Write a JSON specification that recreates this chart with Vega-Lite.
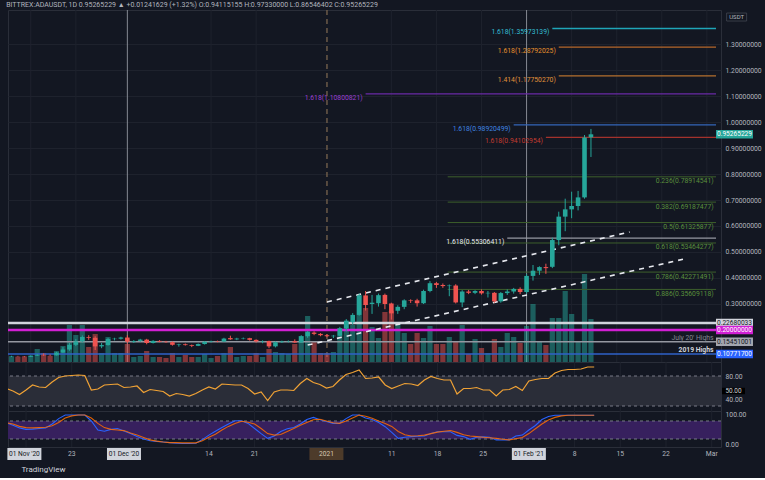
{
  "$schema": "https://vega.github.io/schema/vega-lite/v6.json",
  "background": "#131722",
  "padding": {"left": 6, "right": 5, "top": 0, "bottom": 4},
  "bounds": "flush",
  "spacing": 0,
  "title": {
    "text": "BITTREX:ADAUSDT, 1D  0.95265229 ▲ +0.01241629 (+1.32%)  O:0.94115155  H:0.97330000  L:0.86546402  C:0.95265229",
    "anchor": "start",
    "fontSize": 7,
    "fontWeight": "normal",
    "color": "#b2b5be",
    "offset": 1
  },
  "datasets": {
    "ohlc": [
      {"date": "2020-11-13", "open": 0.0975, "high": 0.1010, "low": 0.0960, "close": 0.0995, "vol": 5, "rsi": 55, "k": 74, "d": 74},
      {"date": "2020-11-14", "open": 0.0995, "high": 0.1005, "low": 0.0975, "close": 0.0985, "vol": 5, "rsi": 50, "k": 66, "d": 70},
      {"date": "2020-11-15", "open": 0.0985, "high": 0.0995, "low": 0.0955, "close": 0.0970, "vol": 5, "rsi": 43, "k": 57, "d": 62},
      {"date": "2020-11-16", "open": 0.0970, "high": 0.1025, "low": 0.0960, "close": 0.1015, "vol": 6, "rsi": 52, "k": 52, "d": 58},
      {"date": "2020-11-17", "open": 0.1015, "high": 0.1070, "low": 0.1000, "close": 0.1045, "vol": 13, "rsi": 62, "k": 53, "d": 57},
      {"date": "2020-11-18", "open": 0.1045, "high": 0.1100, "low": 0.1010, "close": 0.1030, "vol": 9, "rsi": 58, "k": 55, "d": 58},
      {"date": "2020-11-19", "open": 0.1030, "high": 0.1060, "low": 0.1005, "close": 0.1025, "vol": 6, "rsi": 57, "k": 57, "d": 59},
      {"date": "2020-11-20", "open": 0.1025, "high": 0.1160, "low": 0.1020, "close": 0.1130, "vol": 11, "rsi": 68, "k": 70, "d": 64},
      {"date": "2020-11-21", "open": 0.1130, "high": 0.1340, "low": 0.1120, "close": 0.1250, "vol": 16, "rsi": 77, "k": 88, "d": 75},
      {"date": "2020-11-22", "open": 0.1250, "high": 0.1500, "low": 0.1200, "close": 0.1430, "vol": 37, "rsi": 80, "k": 100, "d": 90},
      {"date": "2020-11-23", "open": 0.1430, "high": 0.1650, "low": 0.1380, "close": 0.1560, "vol": 27, "rsi": 81, "k": 100, "d": 97},
      {"date": "2020-11-24", "open": 0.1560, "high": 0.1790, "low": 0.1520, "close": 0.1730, "vol": 37, "rsi": 82, "k": 100, "d": 100},
      {"date": "2020-11-25", "open": 0.1730, "high": 0.1800, "low": 0.1620, "close": 0.1700, "vol": 15, "rsi": 81, "k": 100, "d": 100},
      {"date": "2020-11-26", "open": 0.1700, "high": 0.1760, "low": 0.1230, "close": 0.1370, "vol": 28, "rsi": 52, "k": 80, "d": 90},
      {"date": "2020-11-27", "open": 0.1370, "high": 0.1500, "low": 0.1300, "close": 0.1420, "vol": 9, "rsi": 54, "k": 50, "d": 72},
      {"date": "2020-11-28", "open": 0.1420, "high": 0.1700, "low": 0.1400, "close": 0.1650, "vol": 25, "rsi": 62, "k": 46, "d": 58},
      {"date": "2020-11-29", "open": 0.1650, "high": 0.1700, "low": 0.1600, "close": 0.1665, "vol": 9, "rsi": 63, "k": 52, "d": 52},
      {"date": "2020-11-30", "open": 0.1665, "high": 0.1740, "low": 0.1630, "close": 0.1710, "vol": 9, "rsi": 64, "k": 55, "d": 50},
      {"date": "2020-12-01", "open": 0.1710, "high": 0.1800, "low": 0.1480, "close": 0.1550, "vol": 18, "rsi": 57, "k": 47, "d": 48},
      {"date": "2020-12-02", "open": 0.1550, "high": 0.1610, "low": 0.1500, "close": 0.1580, "vol": 5, "rsi": 58, "k": 38, "d": 40},
      {"date": "2020-12-03", "open": 0.1580, "high": 0.1660, "low": 0.1540, "close": 0.1630, "vol": 6, "rsi": 60, "k": 28, "d": 33},
      {"date": "2020-12-04", "open": 0.1630, "high": 0.1660, "low": 0.1450, "close": 0.1500, "vol": 11, "rsi": 47, "k": 20, "d": 25},
      {"date": "2020-12-05", "open": 0.1500, "high": 0.1610, "low": 0.1480, "close": 0.1580, "vol": 5, "rsi": 53, "k": 14, "d": 17},
      {"date": "2020-12-06", "open": 0.1580, "high": 0.1610, "low": 0.1530, "close": 0.1550, "vol": 5, "rsi": 51, "k": 12, "d": 13},
      {"date": "2020-12-07", "open": 0.1550, "high": 0.1580, "low": 0.1510, "close": 0.1530, "vol": 4, "rsi": 49, "k": 10, "d": 10},
      {"date": "2020-12-08", "open": 0.1530, "high": 0.1560, "low": 0.1400, "close": 0.1430, "vol": 9, "rsi": 40, "k": 8, "d": 8},
      {"date": "2020-12-09", "open": 0.1430, "high": 0.1470, "low": 0.1360, "close": 0.1450, "vol": 5, "rsi": 45, "k": 6, "d": 8},
      {"date": "2020-12-10", "open": 0.1450, "high": 0.1480, "low": 0.1400, "close": 0.1420, "vol": 7, "rsi": 43, "k": 5, "d": 7},
      {"date": "2020-12-11", "open": 0.1420, "high": 0.1440, "low": 0.1340, "close": 0.1390, "vol": 5, "rsi": 40, "k": 5, "d": 7},
      {"date": "2020-12-12", "open": 0.1390, "high": 0.1480, "low": 0.1380, "close": 0.1460, "vol": 5, "rsi": 45, "k": 6, "d": 7},
      {"date": "2020-12-13", "open": 0.1460, "high": 0.1570, "low": 0.1440, "close": 0.1550, "vol": 8, "rsi": 52, "k": 18, "d": 14},
      {"date": "2020-12-14", "open": 0.1550, "high": 0.1590, "low": 0.1520, "close": 0.1570, "vol": 4, "rsi": 58, "k": 33, "d": 26},
      {"date": "2020-12-15", "open": 0.1570, "high": 0.1590, "low": 0.1530, "close": 0.1555, "vol": 6, "rsi": 54, "k": 46, "d": 36},
      {"date": "2020-12-16", "open": 0.1555, "high": 0.1700, "low": 0.1540, "close": 0.1670, "vol": 9, "rsi": 64, "k": 58, "d": 50},
      {"date": "2020-12-17", "open": 0.1690, "high": 0.1780, "low": 0.1620, "close": 0.1640, "vol": 15, "rsi": 63, "k": 70, "d": 62},
      {"date": "2020-12-18", "open": 0.1640, "high": 0.1700, "low": 0.1610, "close": 0.1670, "vol": 5, "rsi": 62, "k": 81, "d": 72},
      {"date": "2020-12-19", "open": 0.1670, "high": 0.1710, "low": 0.1640, "close": 0.1685, "vol": 6, "rsi": 62, "k": 81, "d": 79},
      {"date": "2020-12-20", "open": 0.1685, "high": 0.1700, "low": 0.1590, "close": 0.1620, "vol": 6, "rsi": 55, "k": 72, "d": 76},
      {"date": "2020-12-21", "open": 0.1620, "high": 0.1640, "low": 0.1520, "close": 0.1560, "vol": 9, "rsi": 44, "k": 55, "d": 70},
      {"date": "2020-12-22", "open": 0.1560, "high": 0.1600, "low": 0.1490, "close": 0.1575, "vol": 5, "rsi": 48, "k": 38, "d": 55},
      {"date": "2020-12-23", "open": 0.1575, "high": 0.1590, "low": 0.1300, "close": 0.1370, "vol": 13, "rsi": 31, "k": 22, "d": 38},
      {"date": "2020-12-24", "open": 0.1370, "high": 0.1560, "low": 0.1330, "close": 0.1530, "vol": 10, "rsi": 48, "k": 30, "d": 33},
      {"date": "2020-12-25", "open": 0.1530, "high": 0.1590, "low": 0.1500, "close": 0.1560, "vol": 9, "rsi": 52, "k": 45, "d": 35},
      {"date": "2020-12-26", "open": 0.1560, "high": 0.1600, "low": 0.1520, "close": 0.1570, "vol": 8, "rsi": 52, "k": 54, "d": 45},
      {"date": "2020-12-27", "open": 0.1570, "high": 0.1640, "low": 0.1500, "close": 0.1520, "vol": 18, "rsi": 51, "k": 58, "d": 55},
      {"date": "2020-12-28", "open": 0.1520, "high": 0.1800, "low": 0.1510, "close": 0.1760, "vol": 26, "rsi": 65, "k": 70, "d": 66},
      {"date": "2020-12-29", "open": 0.1760, "high": 0.1960, "low": 0.1700, "close": 0.1920, "vol": 46, "rsi": 75, "k": 85, "d": 75},
      {"date": "2020-12-30", "open": 0.1900, "high": 0.1950, "low": 0.1800, "close": 0.1850, "vol": 20, "rsi": 67, "k": 92, "d": 84},
      {"date": "2020-12-31", "open": 0.1850, "high": 0.1880, "low": 0.1760, "close": 0.1800, "vol": 9, "rsi": 63, "k": 84, "d": 86},
      {"date": "2021-01-01", "open": 0.1800, "high": 0.1840, "low": 0.1720, "close": 0.1760, "vol": 9, "rsi": 56, "k": 78, "d": 80},
      {"date": "2021-01-02", "open": 0.1760, "high": 0.1810, "low": 0.1690, "close": 0.1780, "vol": 10, "rsi": 59, "k": 72, "d": 74},
      {"date": "2021-01-03", "open": 0.1780, "high": 0.2120, "low": 0.1760, "close": 0.2060, "vol": 34, "rsi": 72, "k": 72, "d": 72},
      {"date": "2021-01-04", "open": 0.2060, "high": 0.2420, "low": 0.1950, "close": 0.2360, "vol": 40, "rsi": 83, "k": 88, "d": 80},
      {"date": "2021-01-05", "open": 0.2300, "high": 0.2650, "low": 0.2200, "close": 0.2580, "vol": 37, "rsi": 87, "k": 100, "d": 90},
      {"date": "2021-01-06", "open": 0.2580, "high": 0.3400, "low": 0.2550, "close": 0.3330, "vol": 67, "rsi": 92, "k": 100, "d": 100},
      {"date": "2021-01-07", "open": 0.3330, "high": 0.3500, "low": 0.2750, "close": 0.2960, "vol": 54, "rsi": 75, "k": 90, "d": 96},
      {"date": "2021-01-08", "open": 0.3000, "high": 0.3350, "low": 0.2620, "close": 0.3050, "vol": 35, "rsi": 76, "k": 85, "d": 89},
      {"date": "2021-01-09", "open": 0.3030, "high": 0.3400, "low": 0.2900, "close": 0.3340, "vol": 24, "rsi": 78, "k": 75, "d": 80},
      {"date": "2021-01-10", "open": 0.3350, "high": 0.3400, "low": 0.2800, "close": 0.3000, "vol": 50, "rsi": 62, "k": 61, "d": 72},
      {"date": "2021-01-11", "open": 0.3020, "high": 0.3050, "low": 0.2400, "close": 0.2640, "vol": 51, "rsi": 55, "k": 42, "d": 62},
      {"date": "2021-01-12", "open": 0.2740, "high": 0.2950, "low": 0.2620, "close": 0.2890, "vol": 40, "rsi": 60, "k": 22, "d": 45},
      {"date": "2021-01-13", "open": 0.2890, "high": 0.3180, "low": 0.2800, "close": 0.3140, "vol": 29, "rsi": 65, "k": 26, "d": 34},
      {"date": "2021-01-14", "open": 0.3140, "high": 0.3180, "low": 0.3040, "close": 0.3120, "vol": 18, "rsi": 64, "k": 28, "d": 30},
      {"date": "2021-01-15", "open": 0.3140, "high": 0.3200, "low": 0.2900, "close": 0.3030, "vol": 29, "rsi": 61, "k": 29, "d": 31},
      {"date": "2021-01-16", "open": 0.3030, "high": 0.3550, "low": 0.3000, "close": 0.3500, "vol": 24, "rsi": 72, "k": 30, "d": 33},
      {"date": "2021-01-17", "open": 0.3500, "high": 0.3880, "low": 0.3450, "close": 0.3800, "vol": 36, "rsi": 79, "k": 38, "d": 38},
      {"date": "2021-01-18", "open": 0.3800, "high": 0.3850, "low": 0.3620, "close": 0.3730, "vol": 18, "rsi": 75, "k": 44, "d": 43},
      {"date": "2021-01-19", "open": 0.3730, "high": 0.3790, "low": 0.3620, "close": 0.3690, "vol": 18, "rsi": 72, "k": 44, "d": 46},
      {"date": "2021-01-20", "open": 0.3690, "high": 0.3750, "low": 0.3300, "close": 0.3710, "vol": 25, "rsi": 72, "k": 44, "d": 48},
      {"date": "2021-01-21", "open": 0.3710, "high": 0.3760, "low": 0.3020, "close": 0.3060, "vol": 21, "rsi": 44, "k": 32, "d": 42},
      {"date": "2021-01-22", "open": 0.3060, "high": 0.3530, "low": 0.2880, "close": 0.3480, "vol": 37, "rsi": 55, "k": 28, "d": 34},
      {"date": "2021-01-23", "open": 0.3480, "high": 0.3540, "low": 0.3380, "close": 0.3430, "vol": 8, "rsi": 55, "k": 19, "d": 30},
      {"date": "2021-01-24", "open": 0.3430, "high": 0.3530, "low": 0.3380, "close": 0.3500, "vol": 23, "rsi": 57, "k": 26, "d": 28},
      {"date": "2021-01-25", "open": 0.3500, "high": 0.3560, "low": 0.3360, "close": 0.3410, "vol": 14, "rsi": 52, "k": 27, "d": 26},
      {"date": "2021-01-26", "open": 0.3410, "high": 0.3500, "low": 0.3250, "close": 0.3430, "vol": 9, "rsi": 52, "k": 26, "d": 24},
      {"date": "2021-01-27", "open": 0.3430, "high": 0.3460, "low": 0.3050, "close": 0.3100, "vol": 23, "rsi": 40, "k": 17, "d": 22},
      {"date": "2021-01-28", "open": 0.3100, "high": 0.3460, "low": 0.3050, "close": 0.3420, "vol": 15, "rsi": 52, "k": 17, "d": 19},
      {"date": "2021-01-29", "open": 0.3420, "high": 0.3560, "low": 0.3350, "close": 0.3480, "vol": 29, "rsi": 53, "k": 17, "d": 17},
      {"date": "2021-01-30", "open": 0.3480, "high": 0.3620, "low": 0.3400, "close": 0.3580, "vol": 25, "rsi": 59, "k": 30, "d": 21},
      {"date": "2021-01-31", "open": 0.3580, "high": 0.3640, "low": 0.3380, "close": 0.3460, "vol": 19, "rsi": 51, "k": 33, "d": 25},
      {"date": "2021-02-01", "open": 0.3460, "high": 0.4150, "low": 0.3400, "close": 0.4080, "vol": 36, "rsi": 70, "k": 50, "d": 38},
      {"date": "2021-02-02", "open": 0.4080, "high": 0.4500, "low": 0.3900, "close": 0.4280, "vol": 58, "rsi": 73, "k": 65, "d": 54},
      {"date": "2021-02-03", "open": 0.4280, "high": 0.4450, "low": 0.4120, "close": 0.4420, "vol": 20, "rsi": 75, "k": 85, "d": 70},
      {"date": "2021-02-04", "open": 0.4420, "high": 0.4550, "low": 0.4160, "close": 0.4380, "vol": 17, "rsi": 75, "k": 95, "d": 83},
      {"date": "2021-02-05", "open": 0.4430, "high": 0.5550, "low": 0.4380, "close": 0.5460, "vol": 44, "rsi": 86, "k": 99, "d": 92},
      {"date": "2021-02-06", "open": 0.5460, "high": 0.6550, "low": 0.5260, "close": 0.6360, "vol": 44, "rsi": 91, "k": 99, "d": 97},
      {"date": "2021-02-07", "open": 0.6360, "high": 0.7050, "low": 0.5800, "close": 0.6640, "vol": 71, "rsi": 93, "k": 99, "d": 99},
      {"date": "2021-02-08", "open": 0.6640, "high": 0.7320, "low": 0.6300, "close": 0.6770, "vol": 48, "rsi": 93, "k": 99, "d": 99},
      {"date": "2021-02-09", "open": 0.6770, "high": 0.7350, "low": 0.6600, "close": 0.7100, "vol": 20, "rsi": 94, "k": 99, "d": 99},
      {"date": "2021-02-10", "open": 0.7100, "high": 0.9500, "low": 0.7050, "close": 0.9402, "vol": 88, "rsi": 98, "k": 99, "d": 99},
      {"date": "2021-02-11", "open": 0.9412, "high": 0.9733, "low": 0.8655, "close": 0.9527, "vol": 43, "rsi": 98, "k": 99, "d": 99}
    ],
    "gridx": [
      {"date": "2020-11-16"}, {"date": "2020-11-23"}, {"date": "2020-12-14"}, {"date": "2020-12-21"},
      {"date": "2021-01-11"}, {"date": "2021-01-18"}, {"date": "2021-01-25"}, {"date": "2021-02-08"},
      {"date": "2021-02-15"}, {"date": "2021-02-22"}, {"date": "2021-03-01"}
    ],
    "vsolid": [{"date": "2020-12-01"}, {"date": "2021-02-01"}],
    "vdash": [{"date": "2021-01-01"}],
    "lvl": [
      {"name": "0.22680033", "price": 0.22680033},
      {"name": "0.20000000", "price": 0.2},
      {"name": "0.15451001", "price": 0.15451001},
      {"name": "0.10771700", "price": 0.107717}
    ],
    "ext": [
      {"name": "1.618(1.35973139)", "price": 1.35973139, "date": "2021-02-05"},
      {"name": "1.618(1.28792025)", "price": 1.28792025, "date": "2021-02-06"},
      {"name": "1.414(1.17750270)", "price": 1.1775027, "date": "2021-02-06"},
      {"name": "1.618(1.10800821)", "price": 1.10800821, "date": "2021-01-07"},
      {"name": "1.618(0.98920499)", "price": 0.98920499, "date": "2021-01-30"},
      {"name": "1.618(0.94102954)", "price": 0.94102954, "date": "2021-02-04"},
      {"name": "1.618(0.55306411)", "price": 0.55306411, "date": "2021-01-29"}
    ],
    "retr": [
      {"name": "0.236(0.78914541)", "price": 0.78914541},
      {"name": "0.382(0.69187477)", "price": 0.69187477},
      {"name": "0.5(0.61325877)", "price": 0.61325877},
      {"name": "0.618(0.53464277)", "price": 0.53464277},
      {"name": "0.786(0.42271491)", "price": 0.42271491},
      {"name": "0.886(0.35609118)", "price": 0.35609118}
    ],
    "trend": [
      {"line": "upper", "date": "2021-01-01", "price": 0.308},
      {"line": "upper", "date": "2021-02-17", "price": 0.577},
      {"line": "lower", "date": "2020-12-29", "price": 0.142},
      {"line": "lower", "date": "2021-02-26", "price": 0.476}
    ],
    "notes": [
      {"note": "July 20' Highs", "price": 0.15451001},
      {"note": "2019 Highs", "price": 0.107717}
    ],
    "tags": [
      {"tag": "0.95265229", "price": 0.95265229},
      {"tag": "0.22680033", "price": 0.22680033},
      {"tag": "0.20000000", "price": 0.2},
      {"tag": "0.15451001", "price": 0.15451001},
      {"tag": "0.10771700", "price": 0.107717}
    ],
    "unit": [{"unit": "USDT", "price": 1.4038}],
    "bands": [{"v": 80}, {"v": 20}],
    "rsitag": [{"v": 50, "tag": "50.00"}],
    "xlab": [
      {"date": "2020-11-23", "label": "23"},
      {"date": "2020-12-14", "label": "14"},
      {"date": "2020-12-21", "label": "21"},
      {"date": "2021-01-11", "label": "11"},
      {"date": "2021-01-18", "label": "18"},
      {"date": "2021-01-25", "label": "25"},
      {"date": "2021-02-08", "label": "8"},
      {"date": "2021-02-15", "label": "15"},
      {"date": "2021-02-22", "label": "22"},
      {"date": "2021-03-01", "label": "Mar"}
    ],
    "xbox": [
      {"date": "2020-11-15T18:00:00Z", "label": "01 Nov '20"},
      {"date": "2020-12-01", "label": "01 Dec '20"},
      {"date": "2021-02-01", "label": "01 Feb '21"}
    ],
    "xyear": [{"date": "2021-01-01", "label": "2021"}]
  },
  "vconcat": [
    {
      "width": 713,
      "height": 352,
      "layer": [
        {
          "data": {"name": "gridx"},
          "mark": {"type": "rule", "color": "#1e222d", "strokeWidth": 1},
          "encoding": {
            "x": {"field": "date", "type": "temporal", "scale": {"type": "utc", "domain": [{"year": 2020, "month": 11, "date": 13, "hours": 5, "minutes": 45, "utc": true}, {"year": 2021, "month": 3, "date": 2, "hours": 10, "minutes": 5, "utc": true}]}, "axis": null}
          }
        },
        {
          "data": {"name": "vsolid"},
          "mark": {"type": "rule", "color": "#868993", "strokeWidth": 1},
          "encoding": {
            "x": {"field": "date", "type": "temporal", "scale": {"type": "utc", "domain": [{"year": 2020, "month": 11, "date": 13, "hours": 5, "minutes": 45, "utc": true}, {"year": 2021, "month": 3, "date": 2, "hours": 10, "minutes": 5, "utc": true}]}, "axis": null}
          }
        },
        {
          "data": {"name": "vdash"},
          "mark": {"type": "rule", "color": "#6b5a48", "strokeWidth": 1.5, "strokeDash": [5, 4]},
          "encoding": {
            "x": {"field": "date", "type": "temporal", "scale": {"type": "utc", "domain": [{"year": 2020, "month": 11, "date": 13, "hours": 5, "minutes": 45, "utc": true}, {"year": 2021, "month": 3, "date": 2, "hours": 10, "minutes": 5, "utc": true}]}, "axis": null}
          }
        },
        {
          "data": {"name": "ohlc"},
          "mark": {"type": "bar", "width": 5.2, "opacity": 0.5, "clip": true},
          "encoding": {
            "x": {"field": "date", "type": "temporal", "scale": {"type": "utc", "domain": [{"year": 2020, "month": 11, "date": 13, "hours": 5, "minutes": 45, "utc": true}, {"year": 2021, "month": 3, "date": 2, "hours": 10, "minutes": 5, "utc": true}]}, "axis": null},
            "y": {"field": "vol", "type": "quantitative", "scale": {"domain": [0, 352]}, "axis": null},
            "color": {"condition": {"test": "datum.close >= datum.open", "value": "#26a69a"}, "value": "#ef5350"}
          }
        },
        {
          "encoding": {
            "y": {
              "field": "price", "type": "quantitative", "scale": {"domain": [0.0769, 1.4308]},
              "axis": {"orient": "right", "values": [0.3, 0.4, 0.5, 0.6, 0.7, 0.8, 0.9, 1.0, 1.1, 1.2, 1.3], "format": ".8f", "title": null, "domain": false, "ticks": false, "labelPadding": 4, "labelFontSize": 6.8, "labelColor": "#b2b5be", "grid": true, "gridColor": "#1e222d"}
            }
          },
          "layer": [
            {
              "data": {"name": "lvl"},
              "mark": {"type": "rule", "strokeWidth": 1.6},
              "encoding": {
                "color": {"field": "name", "type": "nominal", "scale": {"domain": ["0.22680033", "0.20000000", "0.15451001", "0.10771700"], "range": ["#d1d4dc", "#d11fd4", "#9598a1", "#2f62c9"]}, "legend": null}
              }
            },
            {
              "data": {"name": "lvl"},
              "transform": [{"filter": "datum.name == '0.20000000' || datum.name == '0.22680033'"}],
              "mark": {"type": "rule", "strokeWidth": 2.6},
              "encoding": {
                "color": {"field": "name", "type": "nominal", "scale": {"domain": ["0.22680033", "0.20000000"], "range": ["#d1d4dc", "#d11fd4"]}, "legend": null}
              }
            },
            {
              "data": {"name": "retr"},
              "mark": {"type": "rule", "color": "#3d5f2c", "strokeWidth": 1},
              "encoding": {
                "x": {"datum": {"year": 2021, "month": 1, "date": 19, "hours": 18, "utc": true}, "type": "temporal", "scale": {"type": "utc", "domain": [{"year": 2020, "month": 11, "date": 13, "hours": 5, "minutes": 45, "utc": true}, {"year": 2021, "month": 3, "date": 2, "hours": 10, "minutes": 5, "utc": true}]}, "axis": null},
                "x2": {"datum": {"year": 2021, "month": 3, "date": 2, "hours": 10, "minutes": 5, "utc": true}}
              }
            },
            {
              "data": {"name": "ext"},
              "mark": {"type": "rule", "strokeWidth": 1.3},
              "encoding": {
                "x": {"field": "date", "type": "temporal", "scale": {"type": "utc", "domain": [{"year": 2020, "month": 11, "date": 13, "hours": 5, "minutes": 45, "utc": true}, {"year": 2021, "month": 3, "date": 2, "hours": 10, "minutes": 5, "utc": true}]}, "axis": null},
                "x2": {"datum": {"year": 2021, "month": 3, "date": 2, "hours": 10, "minutes": 5, "utc": true}},
                "color": {"field": "name", "type": "nominal", "scale": {"domain": ["1.618(1.35973139)", "1.618(1.28792025)", "1.414(1.17750270)", "1.618(1.10800821)", "1.618(0.98920499)", "1.618(0.94102954)", "1.618(0.55306411)"], "range": ["#1fa5b8", "#b5672a", "#b5702e", "#6a2aa6", "#3566b8", "#a3322c", "#9598a1"]}, "legend": null}
              }
            },
            {
              "data": {"name": "trend"},
              "mark": {"type": "line", "color": "#e6e8ee", "strokeWidth": 1.6, "strokeDash": [5, 5]},
              "encoding": {
                "x": {"field": "date", "type": "temporal", "scale": {"type": "utc", "domain": [{"year": 2020, "month": 11, "date": 13, "hours": 5, "minutes": 45, "utc": true}, {"year": 2021, "month": 3, "date": 2, "hours": 10, "minutes": 5, "utc": true}]}, "axis": null},
                "detail": {"field": "line", "type": "nominal"}
              }
            },
            {
              "data": {"name": "ohlc"},
              "mark": {"type": "rule", "strokeWidth": 1, "clip": true},
              "encoding": {
                "x": {"field": "date", "type": "temporal", "scale": {"type": "utc", "domain": [{"year": 2020, "month": 11, "date": 13, "hours": 5, "minutes": 45, "utc": true}, {"year": 2021, "month": 3, "date": 2, "hours": 10, "minutes": 5, "utc": true}]}, "axis": null},
                "y": {
                  "field": "low", "type": "quantitative", "scale": {"domain": [0.0769, 1.4308]},
                  "axis": {"orient": "right", "values": [0.3, 0.4, 0.5, 0.6, 0.7, 0.8, 0.9, 1.0, 1.1, 1.2, 1.3], "format": ".8f", "title": null, "domain": false, "ticks": false, "labelPadding": 4, "labelFontSize": 6.8, "labelColor": "#b2b5be", "grid": true, "gridColor": "#1e222d"}
                },
                "y2": {"field": "high"},
                "color": {"condition": {"test": "datum.close >= datum.open", "value": "#26a69a"}, "value": "#ef5350"}
              }
            },
            {
              "data": {"name": "ohlc"},
              "mark": {"type": "bar", "width": 4.6, "clip": true},
              "encoding": {
                "x": {"field": "date", "type": "temporal", "scale": {"type": "utc", "domain": [{"year": 2020, "month": 11, "date": 13, "hours": 5, "minutes": 45, "utc": true}, {"year": 2021, "month": 3, "date": 2, "hours": 10, "minutes": 5, "utc": true}]}, "axis": null},
                "y": {
                  "field": "open", "type": "quantitative", "scale": {"domain": [0.0769, 1.4308]},
                  "axis": {"orient": "right", "values": [0.3, 0.4, 0.5, 0.6, 0.7, 0.8, 0.9, 1.0, 1.1, 1.2, 1.3], "format": ".8f", "title": null, "domain": false, "ticks": false, "labelPadding": 4, "labelFontSize": 6.8, "labelColor": "#b2b5be", "grid": true, "gridColor": "#1e222d"}
                },
                "y2": {"field": "close"},
                "color": {"condition": {"test": "datum.close >= datum.open", "value": "#26a69a"}, "value": "#ef5350"}
              }
            },
            {
              "data": {"name": "ext"},
              "mark": {"type": "text", "align": "right", "baseline": "middle", "dx": -3, "dy": 4, "fontSize": 6.8},
              "encoding": {
                "x": {"field": "date", "type": "temporal", "scale": {"type": "utc", "domain": [{"year": 2020, "month": 11, "date": 13, "hours": 5, "minutes": 45, "utc": true}, {"year": 2021, "month": 3, "date": 2, "hours": 10, "minutes": 5, "utc": true}]}, "axis": null},
                "text": {"field": "name"},
                "color": {"field": "name", "type": "nominal", "scale": {"domain": ["1.618(1.35973139)", "1.618(1.28792025)", "1.414(1.17750270)", "1.618(1.10800821)", "1.618(0.98920499)", "1.618(0.94102954)", "1.618(0.55306411)"], "range": ["#33bfd4", "#e8912d", "#e0923a", "#9a3fd0", "#3f83e0", "#c23b30", "#e6e8ee"]}, "legend": null}
              }
            },
            {
              "data": {"name": "retr"},
              "mark": {"type": "text", "align": "right", "baseline": "middle", "dy": 4.5, "fontSize": 6.8, "color": "#5a8f3c"},
              "encoding": {
                "x": {"datum": {"year": 2021, "month": 3, "date": 2, "hours": 1, "utc": true}, "type": "temporal", "scale": {"type": "utc", "domain": [{"year": 2020, "month": 11, "date": 13, "hours": 5, "minutes": 45, "utc": true}, {"year": 2021, "month": 3, "date": 2, "hours": 10, "minutes": 5, "utc": true}]}, "axis": null},
                "text": {"field": "name"}
              }
            },
            {
              "data": {"name": "notes"},
              "transform": [{"filter": "datum.note == \"July 20' Highs\""}],
              "mark": {"type": "text", "align": "right", "baseline": "middle", "dy": -4, "fontSize": 6.8, "color": "#868993"},
              "encoding": {
                "x": {"datum": {"year": 2021, "month": 3, "date": 2, "hours": 1, "utc": true}, "type": "temporal", "scale": {"type": "utc", "domain": [{"year": 2020, "month": 11, "date": 13, "hours": 5, "minutes": 45, "utc": true}, {"year": 2021, "month": 3, "date": 2, "hours": 10, "minutes": 5, "utc": true}]}, "axis": null},
                "text": {"field": "note"}
              }
            },
            {
              "data": {"name": "notes"},
              "transform": [{"filter": "datum.note == '2019 Highs'"}],
              "mark": {"type": "text", "align": "right", "baseline": "middle", "dy": -4, "fontSize": 6.8, "fontWeight": "bold", "color": "#d1d4dc"},
              "encoding": {
                "x": {"datum": {"year": 2021, "month": 3, "date": 2, "hours": 1, "utc": true}, "type": "temporal", "scale": {"type": "utc", "domain": [{"year": 2020, "month": 11, "date": 13, "hours": 5, "minutes": 45, "utc": true}, {"year": 2021, "month": 3, "date": 2, "hours": 10, "minutes": 5, "utc": true}]}, "axis": null},
                "text": {"field": "note"}
              }
            },
            {
              "data": {"name": "tags"},
              "mark": {"type": "point", "filled": true, "opacity": 1, "shape": "M-1,-0.23H1V0.23H-1Z", "size": 1369},
              "encoding": {
                "x": {"datum": {"year": 2021, "month": 3, "date": 5, "hours": 7, "utc": true}, "type": "temporal", "scale": {"type": "utc", "domain": [{"year": 2020, "month": 11, "date": 13, "hours": 5, "minutes": 45, "utc": true}, {"year": 2021, "month": 3, "date": 2, "hours": 10, "minutes": 5, "utc": true}]}, "axis": null},
                "color": {"field": "tag", "type": "nominal", "scale": {"domain": ["0.95265229", "0.22680033", "0.20000000", "0.15451001", "0.10771700"], "range": ["#26a69a", "#d1d4dc", "#d11fd4", "#a3a6af", "#2962ff"]}, "legend": null}
              }
            },
            {
              "data": {"name": "tags"},
              "mark": {"type": "text", "align": "center", "baseline": "middle", "fontSize": 6.6},
              "encoding": {
                "x": {"datum": {"year": 2021, "month": 3, "date": 5, "hours": 7, "utc": true}, "type": "temporal", "scale": {"type": "utc", "domain": [{"year": 2020, "month": 11, "date": 13, "hours": 5, "minutes": 45, "utc": true}, {"year": 2021, "month": 3, "date": 2, "hours": 10, "minutes": 5, "utc": true}]}, "axis": null},
                "text": {"field": "tag"},
                "color": {"condition": {"test": "datum.tag == '0.22680033' || datum.tag == '0.15451001'", "value": "#131722"}, "value": "#ffffff"}
              }
            },
            {
              "data": {"name": "unit"},
              "mark": {"type": "point", "filled": true, "opacity": 1, "shape": "M-1,-0.4H1V0.4H-1Z", "size": 400, "color": "#131722", "stroke": "#434651", "strokeWidth": 0.8},
              "encoding": {
                "x": {"datum": {"year": 2021, "month": 3, "date": 5, "hours": 15, "utc": true}, "type": "temporal", "scale": {"type": "utc", "domain": [{"year": 2020, "month": 11, "date": 13, "hours": 5, "minutes": 45, "utc": true}, {"year": 2021, "month": 3, "date": 2, "hours": 10, "minutes": 5, "utc": true}]}, "axis": null}
              }
            },
            {
              "data": {"name": "unit"},
              "mark": {"type": "text", "align": "center", "baseline": "middle", "fontSize": 6, "color": "#b2b5be"},
              "encoding": {
                "x": {"datum": {"year": 2021, "month": 3, "date": 5, "hours": 15, "utc": true}, "type": "temporal", "scale": {"type": "utc", "domain": [{"year": 2020, "month": 11, "date": 13, "hours": 5, "minutes": 45, "utc": true}, {"year": 2021, "month": 3, "date": 2, "hours": 10, "minutes": 5, "utc": true}]}, "axis": null},
                "text": {"field": "unit"}
              }
            }
          ],
          "resolve": {"scale": {"color": "independent"}}
        }
      ],
      "resolve": {"scale": {"y": "independent"}}
    },
    {
      "width": 713,
      "height": 49,
      "layer": [
        {
          "data": {"name": "gridx"},
          "mark": {"type": "rule", "color": "#1e222d", "strokeWidth": 1},
          "encoding": {
            "x": {"field": "date", "type": "temporal", "scale": {"type": "utc", "domain": [{"year": 2020, "month": 11, "date": 13, "hours": 5, "minutes": 45, "utc": true}, {"year": 2021, "month": 3, "date": 2, "hours": 10, "minutes": 5, "utc": true}]}, "axis": null}
          }
        },
        {
          "encoding": {
            "y": {
              "field": "v", "type": "quantitative", "scale": {"domain": [10, 108]},
              "axis": {"orient": "right", "values": [40, 80], "format": ".2f", "title": null, "domain": false, "ticks": false, "grid": false, "labelPadding": 4, "labelFontSize": 6.8, "labelColor": "#b2b5be", "labelOffset": {"condition": {"test": "datum.value == 40", "value": 3}, "value": 0}}
            }
          },
          "layer": [
            {
              "data": {"name": "bands"},
              "transform": [{"filter": "datum.v == 80"}],
              "mark": {"type": "rect", "color": "#2a2d38"},
              "encoding": {
                "x": {"datum": {"year": 2020, "month": 11, "date": 13, "hours": 5, "minutes": 45, "utc": true}, "type": "temporal", "scale": {"type": "utc", "domain": [{"year": 2020, "month": 11, "date": 13, "hours": 5, "minutes": 45, "utc": true}, {"year": 2021, "month": 3, "date": 2, "hours": 10, "minutes": 5, "utc": true}]}, "axis": null},
                "x2": {"datum": {"year": 2021, "month": 3, "date": 2, "hours": 10, "minutes": 5, "utc": true}},
                "y": {
                  "datum": 80, "type": "quantitative", "scale": {"domain": [10, 108]},
                  "axis": {"orient": "right", "values": [40, 80], "format": ".2f", "title": null, "domain": false, "ticks": false, "grid": false, "labelPadding": 4, "labelFontSize": 6.8, "labelColor": "#b2b5be", "labelOffset": {"condition": {"test": "datum.value == 40", "value": 3}, "value": 0}}
                },
                "y2": {"datum": 20}
              }
            },
            {
              "data": {"name": "bands"},
              "mark": {"type": "rule", "color": "#787b86", "strokeWidth": 1, "strokeDash": [3, 3]},
              "encoding": {}
            },
            {
              "data": {"name": "vdash"},
              "mark": {"type": "rule", "color": "#6b5a48", "strokeWidth": 1.5, "strokeDash": [5, 4]},
              "encoding": {
                "x": {"field": "date", "type": "temporal", "scale": {"type": "utc", "domain": [{"year": 2020, "month": 11, "date": 13, "hours": 5, "minutes": 45, "utc": true}, {"year": 2021, "month": 3, "date": 2, "hours": 10, "minutes": 5, "utc": true}]}, "axis": null},
                "y": {
                  "datum": 108, "type": "quantitative", "scale": {"domain": [10, 108]},
                  "axis": {"orient": "right", "values": [40, 80], "format": ".2f", "title": null, "domain": false, "ticks": false, "grid": false, "labelPadding": 4, "labelFontSize": 6.8, "labelColor": "#b2b5be", "labelOffset": {"condition": {"test": "datum.value == 40", "value": 3}, "value": 0}}
                },
                "y2": {"datum": 10}
              }
            },
            {
              "data": {"name": "ohlc"},
              "mark": {"type": "line", "color": "#f0a235", "strokeWidth": 1.2, "clip": true},
              "encoding": {
                "x": {"field": "date", "type": "temporal", "scale": {"type": "utc", "domain": [{"year": 2020, "month": 11, "date": 13, "hours": 5, "minutes": 45, "utc": true}, {"year": 2021, "month": 3, "date": 2, "hours": 10, "minutes": 5, "utc": true}]}, "axis": null},
                "y": {
                  "field": "rsi", "type": "quantitative", "scale": {"domain": [10, 108]},
                  "axis": {"orient": "right", "values": [40, 80], "format": ".2f", "title": null, "domain": false, "ticks": false, "grid": false, "labelPadding": 4, "labelFontSize": 6.8, "labelColor": "#b2b5be", "labelOffset": {"condition": {"test": "datum.value == 40", "value": 3}, "value": 0}}
                }
              }
            },
            {
              "data": {"name": "rsitag"},
              "mark": {"type": "point", "filled": true, "opacity": 1, "shape": "M-1,-0.28H1V0.28H-1Z", "size": 529, "color": "#000000"},
              "encoding": {
                "x": {"datum": {"year": 2021, "month": 3, "date": 4, "hours": 8, "utc": true}, "type": "temporal", "scale": {"type": "utc", "domain": [{"year": 2020, "month": 11, "date": 13, "hours": 5, "minutes": 45, "utc": true}, {"year": 2021, "month": 3, "date": 2, "hours": 10, "minutes": 5, "utc": true}]}, "axis": null}
              }
            },
            {
              "data": {"name": "rsitag"},
              "mark": {"type": "text", "align": "center", "baseline": "middle", "fontSize": 6.4, "color": "#d1d4dc"},
              "encoding": {
                "x": {"datum": {"year": 2021, "month": 3, "date": 4, "hours": 8, "utc": true}, "type": "temporal", "scale": {"type": "utc", "domain": [{"year": 2020, "month": 11, "date": 13, "hours": 5, "minutes": 45, "utc": true}, {"year": 2021, "month": 3, "date": 2, "hours": 10, "minutes": 5, "utc": true}]}, "axis": null},
                "text": {"field": "tag"}
              }
            }
          ]
        }
      ]
    },
    {
      "width": 713,
      "height": 36,
      "layer": [
        {
          "data": {"name": "gridx"},
          "mark": {"type": "rule", "color": "#1e222d", "strokeWidth": 1},
          "encoding": {
            "x": {"field": "date", "type": "temporal", "scale": {"type": "utc", "domain": [{"year": 2020, "month": 11, "date": 13, "hours": 5, "minutes": 45, "utc": true}, {"year": 2021, "month": 3, "date": 2, "hours": 10, "minutes": 5, "utc": true}]}, "axis": null}
          }
        },
        {
          "encoding": {
            "y": {
              "field": "v", "type": "quantitative", "scale": {"domain": [-6.7, 113.3]},
              "axis": {"orient": "right", "values": [0, 100], "format": ".2f", "title": null, "domain": false, "ticks": false, "grid": false, "labelPadding": 4, "labelFontSize": 6.8, "labelColor": "#b2b5be"}
            }
          },
          "layer": [
            {
              "data": {"name": "bands"},
              "transform": [{"filter": "datum.v == 80"}],
              "mark": {"type": "rect", "color": "#37205e"},
              "encoding": {
                "x": {"datum": {"year": 2020, "month": 11, "date": 13, "hours": 5, "minutes": 45, "utc": true}, "type": "temporal", "scale": {"type": "utc", "domain": [{"year": 2020, "month": 11, "date": 13, "hours": 5, "minutes": 45, "utc": true}, {"year": 2021, "month": 3, "date": 2, "hours": 10, "minutes": 5, "utc": true}]}, "axis": null},
                "x2": {"datum": {"year": 2021, "month": 3, "date": 2, "hours": 10, "minutes": 5, "utc": true}},
                "y": {
                  "datum": 80, "type": "quantitative", "scale": {"domain": [-6.7, 113.3]},
                  "axis": {"orient": "right", "values": [0, 100], "format": ".2f", "title": null, "domain": false, "ticks": false, "grid": false, "labelPadding": 4, "labelFontSize": 6.8, "labelColor": "#b2b5be"}
                },
                "y2": {"datum": 20}
              }
            },
            {
              "data": {"name": "bands"},
              "mark": {"type": "rule", "color": "#787b86", "strokeWidth": 1, "strokeDash": [3, 3]},
              "encoding": {}
            },
            {
              "data": {"name": "vdash"},
              "mark": {"type": "rule", "color": "#6b5a48", "strokeWidth": 1.5, "strokeDash": [5, 4]},
              "encoding": {
                "x": {"field": "date", "type": "temporal", "scale": {"type": "utc", "domain": [{"year": 2020, "month": 11, "date": 13, "hours": 5, "minutes": 45, "utc": true}, {"year": 2021, "month": 3, "date": 2, "hours": 10, "minutes": 5, "utc": true}]}, "axis": null},
                "y": {
                  "datum": 113.3, "type": "quantitative", "scale": {"domain": [-6.7, 113.3]},
                  "axis": {"orient": "right", "values": [0, 100], "format": ".2f", "title": null, "domain": false, "ticks": false, "grid": false, "labelPadding": 4, "labelFontSize": 6.8, "labelColor": "#b2b5be"}
                },
                "y2": {"datum": -6.7}
              }
            },
            {
              "data": {"name": "ohlc"},
              "mark": {"type": "line", "color": "#2962ff", "strokeWidth": 1.1, "clip": true},
              "encoding": {
                "x": {"field": "date", "type": "temporal", "scale": {"type": "utc", "domain": [{"year": 2020, "month": 11, "date": 13, "hours": 5, "minutes": 45, "utc": true}, {"year": 2021, "month": 3, "date": 2, "hours": 10, "minutes": 5, "utc": true}]}, "axis": null},
                "y": {
                  "field": "k", "type": "quantitative", "scale": {"domain": [-6.7, 113.3]},
                  "axis": {"orient": "right", "values": [0, 100], "format": ".2f", "title": null, "domain": false, "ticks": false, "grid": false, "labelPadding": 4, "labelFontSize": 6.8, "labelColor": "#b2b5be"}
                }
              }
            },
            {
              "data": {"name": "ohlc"},
              "mark": {"type": "line", "color": "#ff6d00", "strokeWidth": 1.1, "opacity": 0.85, "clip": true},
              "encoding": {
                "x": {"field": "date", "type": "temporal", "scale": {"type": "utc", "domain": [{"year": 2020, "month": 11, "date": 13, "hours": 5, "minutes": 45, "utc": true}, {"year": 2021, "month": 3, "date": 2, "hours": 10, "minutes": 5, "utc": true}]}, "axis": null},
                "y": {
                  "field": "d", "type": "quantitative", "scale": {"domain": [-6.7, 113.3]},
                  "axis": {"orient": "right", "values": [0, 100], "format": ".2f", "title": null, "domain": false, "ticks": false, "grid": false, "labelPadding": 4, "labelFontSize": 6.8, "labelColor": "#b2b5be"}
                }
              }
            }
          ]
        }
      ]
    },
    {
      "width": 713,
      "height": 14,
      "view": {"stroke": null},
      "title": {"text": "TradingView", "orient": "bottom", "anchor": "start", "fontSize": 8, "fontWeight": "normal", "color": "#d1d4dc", "offset": 5, "dx": 14},
      "layer": [
        {
          "data": {"name": "xlab"},
          "mark": {"type": "text", "fontSize": 6.8, "color": "#b2b5be", "baseline": "middle"},
          "encoding": {
            "x": {"field": "date", "type": "temporal", "scale": {"type": "utc", "domain": [{"year": 2020, "month": 11, "date": 13, "hours": 5, "minutes": 45, "utc": true}, {"year": 2021, "month": 3, "date": 2, "hours": 10, "minutes": 5, "utc": true}]}, "axis": null},
            "text": {"field": "label"}
          }
        },
        {
          "data": {"name": "xbox"},
          "mark": {"type": "point", "filled": true, "opacity": 1, "shape": "M-1,-0.35H1V0.35H-1Z", "size": 1156, "color": "#d1d4dc"},
          "encoding": {
            "x": {"field": "date", "type": "temporal", "scale": {"type": "utc", "domain": [{"year": 2020, "month": 11, "date": 13, "hours": 5, "minutes": 45, "utc": true}, {"year": 2021, "month": 3, "date": 2, "hours": 10, "minutes": 5, "utc": true}]}, "axis": null}
          }
        },
        {
          "data": {"name": "xyear"},
          "mark": {"type": "point", "filled": true, "opacity": 1, "shape": "M-1,-0.35H1V0.35H-1Z", "size": 1156, "color": "#4d3b2a"},
          "encoding": {
            "x": {"field": "date", "type": "temporal", "scale": {"type": "utc", "domain": [{"year": 2020, "month": 11, "date": 13, "hours": 5, "minutes": 45, "utc": true}, {"year": 2021, "month": 3, "date": 2, "hours": 10, "minutes": 5, "utc": true}]}, "axis": null}
          }
        },
        {
          "data": {"name": "xbox"},
          "mark": {"type": "text", "fontSize": 6.6, "color": "#131722", "baseline": "middle"},
          "encoding": {
            "x": {"field": "date", "type": "temporal", "scale": {"type": "utc", "domain": [{"year": 2020, "month": 11, "date": 13, "hours": 5, "minutes": 45, "utc": true}, {"year": 2021, "month": 3, "date": 2, "hours": 10, "minutes": 5, "utc": true}]}, "axis": null},
            "text": {"field": "label"}
          }
        },
        {
          "data": {"name": "xyear"},
          "mark": {"type": "text", "fontSize": 6.6, "color": "#d8c8b4", "baseline": "middle"},
          "encoding": {
            "x": {"field": "date", "type": "temporal", "scale": {"type": "utc", "domain": [{"year": 2020, "month": 11, "date": 13, "hours": 5, "minutes": 45, "utc": true}, {"year": 2021, "month": 3, "date": 2, "hours": 10, "minutes": 5, "utc": true}]}, "axis": null},
            "text": {"field": "label"}
          }
        }
      ]
    }
  ],
  "config": {
    "font": "Roboto",
    "view": {"stroke": "#2a2e39"},
    "title": {"font": "Roboto"},
    "axis": {"labelFont": "Roboto"}
  }
}
